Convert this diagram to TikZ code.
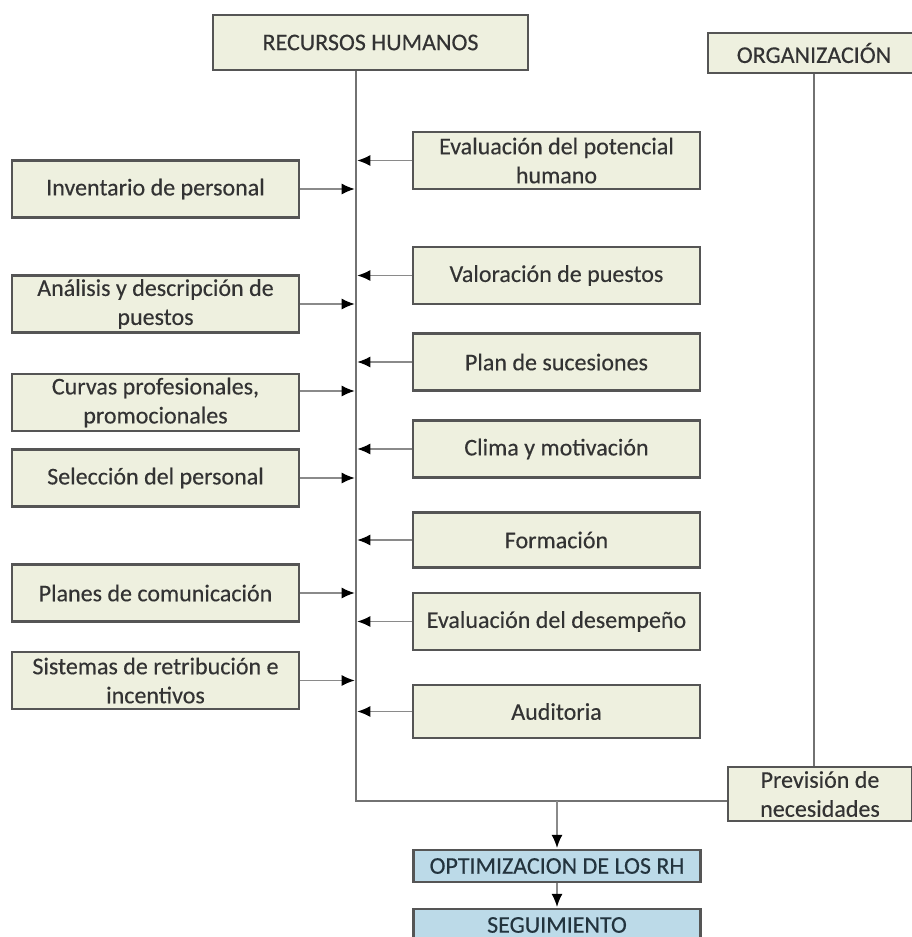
\documentclass[tikz,border=0pt]{standalone}
\usepackage{fontspec}
\setmainfont{Carlito}
\newfontfamily\boxfamily{Carlito}[FakeBold=0.3]
\usetikzlibrary{arrows.meta}
\definecolor{cream}{HTML}{EEF0DF}
\definecolor{skyfill}{HTML}{BCDAE8}
\definecolor{boxline}{HTML}{555555}
\definecolor{txt}{HTML}{333333}
\definecolor{skytxt}{HTML}{23343E}
\definecolor{conn}{HTML}{8A8A8A}
\definecolor{trunkc}{HTML}{727272}
\newcommand\boxfont{\boxfamily\fontsize{24}{29}\selectfont}
\tikzset{
  box/.style={draw=boxline, line width=2.3pt, fill=cream, text=txt,
    align=center, inner sep=0pt, font=\boxfont},
  colbox/.style={box, minimum width=287pt, minimum height=57pt},
  skybox/.style={box, fill=skyfill, text=skytxt, minimum width=287pt, minimum height=32pt},
  arr/.style={draw=conn, line width=1.3pt, shorten >=1.3pt,
    -{Latex[length=13pt,width=11pt,color=black]}},
  trunk/.style={draw=trunkc, line width=2.6pt}
}
\begin{document}
\begin{tikzpicture}[x=1pt,y=-1pt]
\useasboundingbox (0,0) rectangle (911,937);

% top headers
\node[box, minimum width=315pt, minimum height=55pt] (rh) at (370.5,42.5) {RECURSOS HUMANOS};
\node[box, minimum width=212pt, minimum height=40pt] (org) at (814,53) {ORGANIZACIÓN};

% inputs on the left
\node[colbox] (inv) at (155.5,189)   {Inventario de personal};
\node[colbox] (ana) at (155.5,304)   {Análisis y descripción de\\puestos};
\node[colbox] (cur) at (155.5,402.5) {Curvas profesionales,\\promocionales};
\node[colbox] (sel) at (155.5,478)   {Selección del personal};
\node[colbox] (pco) at (155.5,593)   {Planes de comunicación};
\node[colbox] (sis) at (155.5,680.5) {Sistemas de retribución e\\incentivos};

% inputs on the right
\node[colbox] (evp) at (556.5,160.5) {Evaluación del potencial\\humano};
\node[colbox] (val) at (556.5,275.5) {Valoración de puestos};
\node[colbox] (suc) at (556.5,362)   {Plan de sucesiones};
\node[colbox] (cli) at (556.5,449)   {Clima y motivación};
\node[colbox, minimum height=55pt] (for) at (556.5,540) {Formación};
\node[colbox] (evd) at (556.5,621.5) {Evaluación del desempeño};
\node[colbox, minimum height=53pt] (aud) at (556.5,711.5) {Auditoria};

% forecast box and outputs
\node[box, minimum width=184pt, minimum height=54pt] (prev) at (820,794) {Previsión de\\necesidades};
\node[skybox] (opt) at (557,866) {OPTIMIZACION DE LOS RH};
\node[skybox] (seg) at (557,925) {SEGUIMIENTO};

% trunk line of human resources
\coordinate (rhv) at (356,70);
\coordinate (corner) at (356,801);

% arrows into the trunk
\draw[arr] (inv.east) -- (inv.east -| rhv);
\draw[arr] (ana.east) -- (ana.east -| rhv);
\draw[arr] ([yshift=11.5pt]cur.east) -- ([yshift=11.5pt]cur.east -| rhv);
\draw[arr] (sel.east) -- (sel.east -| rhv);
\draw[arr] (pco.east) -- (pco.east -| rhv);
\draw[arr] (sis.east) -- (sis.east -| rhv);
\draw[arr] (evp.west) -- (evp.west -| rhv);
\draw[arr] (val.west) -- (val.west -| rhv);
\draw[arr] (suc.west) -- (suc.west -| rhv);
\draw[arr] (cli.west) -- (cli.west -| rhv);
\draw[arr] (for.west) -- (for.west -| rhv);
\draw[arr] (evd.west) -- (evd.west -| rhv);
\draw[arr] (aud.west) -- (aud.west -| rhv);

\draw[trunk] (rhv |- rh.south) -- (corner) -- (corner -| prev.west);
\draw[trunk] (org.south) -- (org.south |- prev.north);

\draw[arr, shorten >=1pt] (corner -| opt.north) -- (opt.north);
\draw[arr, shorten >=1pt] (opt.south) -- (seg.north);
\end{tikzpicture}
\end{document}
